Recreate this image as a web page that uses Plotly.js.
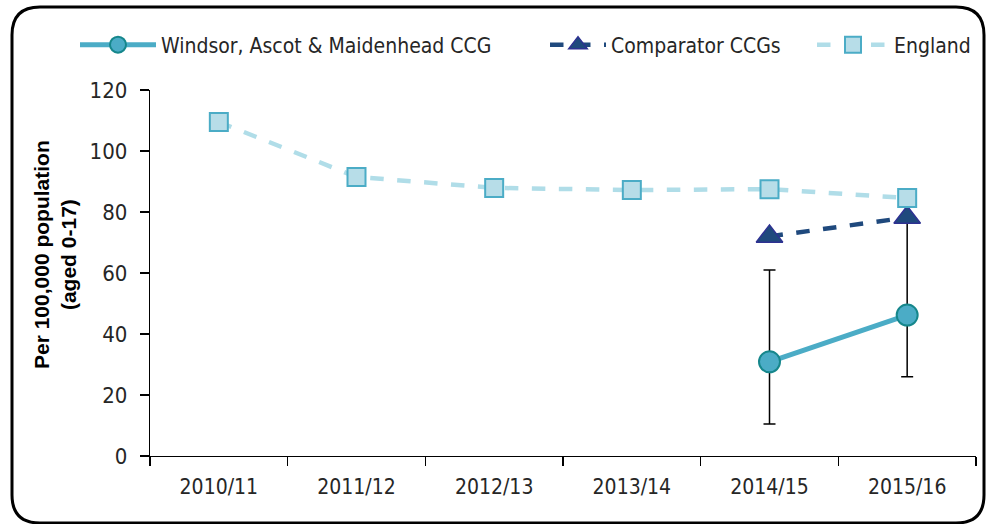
<!DOCTYPE html>
<html>
<head>
<meta charset="utf-8">
<script src="https://cdn.plot.ly/plotly-3.0.1.min.js"></script>
<style>html,body{margin:0;padding:0;background:#fff;}#chart{width:987px;height:524px;}</style>
</head>
<body>
<div id="chart"></div>
<script>
var years = ["2010/11", "2011/12", "2012/13", "2013/14", "2014/15", "2015/16"];
var englandVals = [109.5, 91.5, 87.9, 87.2, 87.5, 84.6];
var comparatorYears = ["2014/15", "2015/16"];
var comparatorVals = [72.0, 78.2];
var windsorYears = ["2014/15", "2015/16"];
var windsorVals = [30.9, 46.2];
var windsorUpper = [61.0, 77.0];
var windsorLower = [10.5, 26.0];
var yTicks = [0, 20, 40, 60, 80, 100, 120];
var yTitle = "<b>Per 100,000 population<br>(aged 0-17)</b>";

var errPlus = windsorVals.map(function (v, i) { return windsorUpper[i] - v; });
var errMinus = windsorVals.map(function (v, i) { return v - windsorLower[i]; });

var FONT = "Liberation Sans Narrow, Arial Narrow, DejaVu Sans Condensed, sans-serif";

var traces = [
  {
    name: "Windsor, Ascot & Maidenhead CCG", legend: "legend",
    x: windsorYears, y: windsorVals,
    type: "scatter", mode: "lines+markers",
    line: {color: "#4BACC6", width: 5},
    marker: {symbol: "circle", size: 21, color: "#4BACC6", line: {color: "#16878C", width: 2}},
    error_y: {type: "data", symmetric: false, array: errPlus, arrayminus: errMinus,
              color: "#000000", thickness: 1.5, width: 6}
  },
  {
    name: "Comparator CCGs", legend: "legend2",
    x: comparatorYears, y: comparatorVals,
    type: "scatter", mode: "lines+markers",
    line: {color: "#1F497D", width: 4.5, dash: "dash"},
    marker: {symbol: "triangle-up", size: 23, color: "#1F497D", line: {color: "#2E3192", width: 1.5}}
  },
  {
    name: "England", legend: "legend3",
    x: years, y: englandVals,
    type: "scatter", mode: "lines+markers",
    line: {color: "#B0DDE8", width: 4.5, dash: "dash"},
    marker: {symbol: "square", size: 18, color: "#B7DDE8", line: {color: "#4BACC6", width: 2}}
  }
];

var L = 150, R = 976, T = 90, B = 456;
function px(x) { return (x - L) / (R - L); }
function py(y) { return (B - y) / (B - T); }
var fx0 = px(12), fx1 = px(984), fy0 = py(523), fy1 = py(7);
var rx = 28 / (R - L), ry = 28 / (B - T);
var framePath = "M " + (fx0 + rx) + "," + fy1 +
  " L " + (fx1 - rx) + "," + fy1 +
  " Q " + fx1 + "," + fy1 + " " + fx1 + "," + (fy1 - ry) +
  " L " + fx1 + "," + (fy0 + ry) +
  " Q " + fx1 + "," + fy0 + " " + (fx1 - rx) + "," + fy0 +
  " L " + (fx0 + rx) + "," + fy0 +
  " Q " + fx0 + "," + fy0 + " " + fx0 + "," + (fy0 + ry) +
  " L " + fx0 + "," + (fy1 - ry) +
  " Q " + fx0 + "," + fy1 + " " + (fx0 + rx) + "," + fy1 + " Z";

function legendAt(xpix, w) {
  return {orientation: "h", x: px(xpix), xanchor: "left", y: py(45), yanchor: "middle",
          font: {family: FONT, size: 21, color: "#262626"}, itemwidth: w,
          bgcolor: "rgba(0,0,0,0)", borderwidth: 0};
}

var layout = {
  width: 987, height: 524,
  margin: {l: L, r: 987 - R, t: T, b: 524 - B},
  paper_bgcolor: "#ffffff", plot_bgcolor: "#ffffff",
  font: {family: FONT, size: 20, color: "#262626"},
  showlegend: true,
  legend: legendAt(75, 76),
  legend2: legendAt(545, 56),
  legend3: legendAt(812, 72),
  xaxis: {
    type: "category", categoryorder: "array", categoryarray: years,
    range: [-0.5, 5.5], showgrid: false, zeroline: false,
    showline: true, linecolor: "#000000", linewidth: 1.2,
    ticks: "outside", tickson: "boundaries", ticklen: 9, tickcolor: "#000000", tickwidth: 1.2,
    tickfont: {family: FONT, size: 21, color: "#262626"}, ticklabelstandoff: 12
  },
  yaxis: {
    range: [0, 120], tickvals: yTicks, showgrid: false, zeroline: false,
    showline: true, linecolor: "#000000", linewidth: 1.2,
    ticks: "outside", ticklen: 9, tickcolor: "#000000", tickwidth: 1.2,
    tickfont: {family: FONT, size: 22, color: "#262626"}, ticklabelstandoff: 8
  },
  annotations: [{text: yTitle, xref: "paper", yref: "paper", x: px(55), y: py(255),
                 xanchor: "center", yanchor: "middle", textangle: -90, showarrow: false,
                 font: {family: "Liberation Sans, Arial, sans-serif", size: 21, color: "#000000"}}],
  shapes: [{type: "path", xref: "paper", yref: "paper", path: framePath,
            line: {color: "#000000", width: 3}, layer: "below"}]
};

Plotly.newPlot("chart", traces, layout, {staticPlot: true, displayModeBar: false});
</script>
</body>
</html>
